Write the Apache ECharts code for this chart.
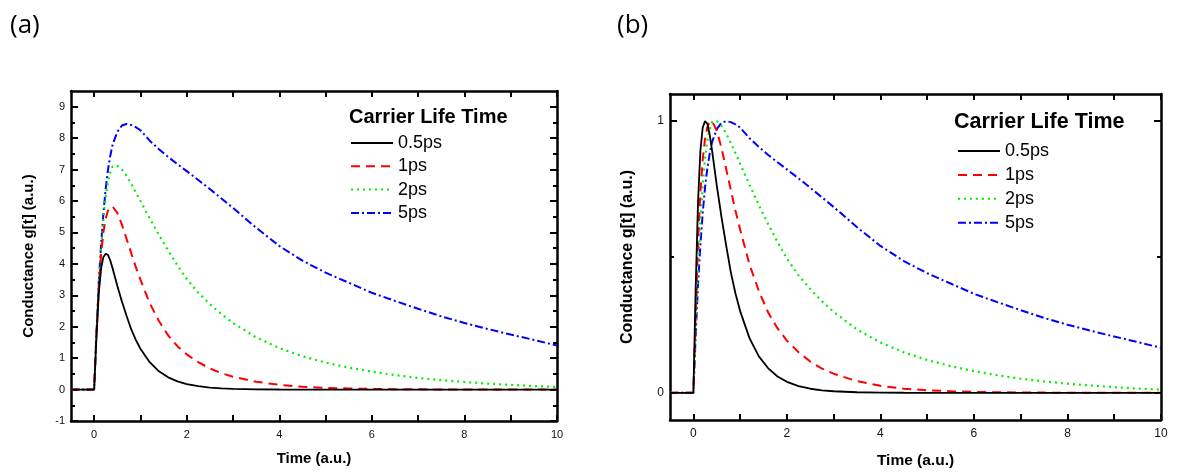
<!DOCTYPE html>
<html><head><meta charset="utf-8">
<script src="https://cdn.jsdelivr.net/npm/echarts@6/dist/echarts.min.js"></script>
<style>html,body{margin:0;padding:0;background:#fff}#c{width:1177px;height:474px}</style>
</head><body><div id="c"></div>
<script>
// ---- data ----
const time = [-0.5,-0.2,0, 0.05,0.1,0.15,0.2,0.25,0.3,0.35,0.4, 0.5,0.6,0.7,0.8,0.9,1.0, 1.2,1.4,1.6,1.8,2.0, 2.25,2.5,2.75,3.0, 3.5,4.0,4.5, 5,5.5,6,6.5,7,7.5,8,8.5,9,9.5,10];
const life05ps = [0,0,0, 1.7,3.05,3.85,4.22,4.32,4.28,4.1,3.85, 3.3,2.8,2.35,1.92,1.58,1.3, 0.87,0.58,0.39,0.26,0.175, 0.108,0.065,0.04,0.025, 0.009,0.003,0.001, 0,0,0,0,0,0,0,0,0,0,0];
const life1ps = [0,0,0, 1.75,3.25,4.3,5.0,5.45,5.7,5.81,5.82, 5.62,5.25,4.8,4.35,3.9,3.5, 2.75,2.18,1.72,1.38,1.12, 0.87,0.67,0.52,0.41, 0.25,0.15,0.09, 0.055,0.034,0.02,0.012,0.0075,0.0045,0.0028,0.0017,0.001,0.0006,0.0004];
const life2ps = [0,0,0, 1.78,3.35,4.5,5.45,6.15,6.62,6.92,7.1, 7.12,7.0,6.8,6.55,6.28,6.0, 5.45,4.92,4.42,3.95,3.52, 3.08,2.72,2.4,2.12, 1.66,1.32,1.06, 0.86,0.7,0.57,0.46,0.37,0.3,0.24,0.19,0.15,0.11,0.085];
const life5ps = [0,0,0, 1.8,3.4,4.6,5.6,6.4,7.0,7.45,7.8, 8.2,8.4,8.45,8.42,8.35,8.25, 7.92,7.65,7.4,7.17,6.95, 6.67,6.38,6.08,5.78, 5.15,4.57,4.1, 3.72,3.4,3.08,2.82,2.57,2.33,2.12,1.93,1.75,1.58,1.4];
const seriesNames = ['0.5ps','1ps','2ps','5ps'];
const xTickValues = [0,1,2,3,4,5,6,7,8,9,10];
const xLabelValues = [0,2,4,6,8,10];
const yMajorA = [-1,0,1,2,3,4,5,6,7,8,9];
const yMinorA = [-0.5,0.5,1.5,2.5,3.5,4.5,5.5,6.5,7.5,8.5];
const yMajorB = [0,1];
const yMinorB = [0.5];
const legendTitle = 'Carrier Life Time';
const xTitle = 'Time (a.u.)';
const yTitle = 'Conductance g[t] (a.u.)';

// ---- build ----
const FONT = '"Liberation Sans", Arial, sans-serif';
const allData = [life05ps, life1ps, life2ps, life5ps];
const colors = ['#000000','#ff0000','#00ee00','#0000ff'];
const lineTypes = ['solid',[9,6],[2,4],[8,3,2,3]];
const widths = [1.8,2,2.2,2];

// panel (b) shows each curve normalised to its own peak
function pairs(arr, norm){
  const m = norm ? Math.max(...arr) : 1;
  return time.map((t,i)=>[t, arr[i]/m]);
}
const AX = {color:'#000', width:2.5};
function xAxes(g, labelSize, titleSize, gap){
  return [
    {type:'value', gridIndex:g, min:-0.5, max:10, position:'bottom',
     axisLine:{show:true,onZero:false,lineStyle:AX},
     axisTick:{show:true,inside:true,length:6,customValues:xTickValues,lineStyle:{color:'#000',width:2}},
     axisLabel:{customValues:xLabelValues,margin:8,color:'#111',fontSize:labelSize,fontFamily:FONT},
     splitLine:{show:false},
     name:xTitle,nameLocation:'middle',nameGap:gap,
     nameTextStyle:{fontSize:titleSize,fontWeight:'bold',color:'#000',fontFamily:FONT}},
    {type:'value', gridIndex:g, min:-0.5, max:10, position:'top',
     axisLine:{show:true,onZero:false,lineStyle:AX},
     axisTick:{show:true,inside:true,length:6,customValues:xTickValues,lineStyle:{color:'#000',width:2}},
     axisLabel:{show:false}, splitLine:{show:false}}
  ];
}
function yAxes(g, min, max, major, minor, labelSize, titleSize, gap){
  const base = {type:'value', gridIndex:g, min:min, max:max, splitLine:{show:false}};
  return [
    Object.assign({}, base, {position:'left',
      axisLine:{show:true,onZero:false,lineStyle:AX},
      axisTick:{show:true,inside:true,length:7,customValues:major,lineStyle:{color:'#000',width:2}},
      axisLabel:{customValues:major,margin:6,color:'#111',fontSize:labelSize,fontFamily:FONT},
      name:yTitle,nameLocation:'middle',nameGap:gap,nameRotate:90,
      nameTextStyle:{fontSize:titleSize,fontWeight:'bold',color:'#000',fontFamily:FONT}}),
    Object.assign({}, base, {position:'left',
      axisLine:{show:false,onZero:false},
      axisTick:{show:true,inside:true,length:4,customValues:minor,lineStyle:{color:'#000',width:2}},
      axisLabel:{show:false}}),
    Object.assign({}, base, {position:'right',
      axisLine:{show:true,onZero:false,lineStyle:AX},
      axisTick:{show:true,inside:true,length:7,customValues:major,lineStyle:{color:'#000',width:2}},
      axisLabel:{show:false}}),
    Object.assign({}, base, {position:'right',
      axisLine:{show:false,onZero:false},
      axisTick:{show:true,inside:true,length:4,customValues:minor,lineStyle:{color:'#000',width:2}},
      axisLabel:{show:false}})
  ];
}
const series = [];
[0,1].forEach(p=>{
  allData.forEach((arr,i)=>{
    series.push({type:'line', name:seriesNames[i], xAxisIndex:p*2, yAxisIndex:p*4,
      data:pairs(arr, p===1), symbol:'none', smooth:false,
      lineStyle:{color:colors[i], width:widths[i], type:lineTypes[i]},
      itemStyle:{color:colors[i]}, z:10-i, animation:false});
  });
});
function legend(left, top, gap){
  return {orient:'vertical', left:left, top:top, padding:0, itemGap:gap,
    itemWidth:42, itemHeight:12, data:seriesNames, selectedMode:false,
    itemStyle:{opacity:0, borderWidth:0},
    textStyle:{fontSize:18, lineHeight:20, color:'#000', fontFamily:FONT, padding:[0,0,0,0]}};
}
const option = {
  animation:false,
  backgroundColor:'#fff',
  grid:[
    {left:71, top:91, width:486, height:330},
    {left:670, top:94, width:491, height:330}
  ],
  xAxis:[...xAxes(0,11,15,30), ...xAxes(1,12,15.5,33)],
  yAxis:[...yAxes(0,-1,9.5,yMajorA,yMinorA,11,15,35), ...yAxes(1,-0.1,1.1,yMajorB,yMinorB,12,16,34)],
  title:[
    {text:'(a)', left:10, top:13, padding:0, textStyle:{fontSize:26,fontWeight:'normal',color:'#000',fontFamily:'"Open Sans", sans-serif'}},
    {text:'(b)', left:617, top:13, padding:0, textStyle:{fontSize:26,fontWeight:'normal',color:'#000',fontFamily:'"Open Sans", sans-serif'}},
    {text:legendTitle, left:349, top:106, padding:0, textStyle:{fontSize:20,fontWeight:'bold',color:'#000',fontFamily:FONT,lineHeight:22}},
    {text:legendTitle, left:954, top:110, padding:0, textStyle:{fontSize:21.5,fontWeight:'bold',color:'#000',fontFamily:FONT,lineHeight:24}}
  ],
  legend:[legend(350,133,3.3), legend(957,141,3.9)],
  series:series
};
const chart = echarts.init(document.getElementById('c'), null, {renderer:'canvas'});
chart.setOption(option);
</script></body></html>
